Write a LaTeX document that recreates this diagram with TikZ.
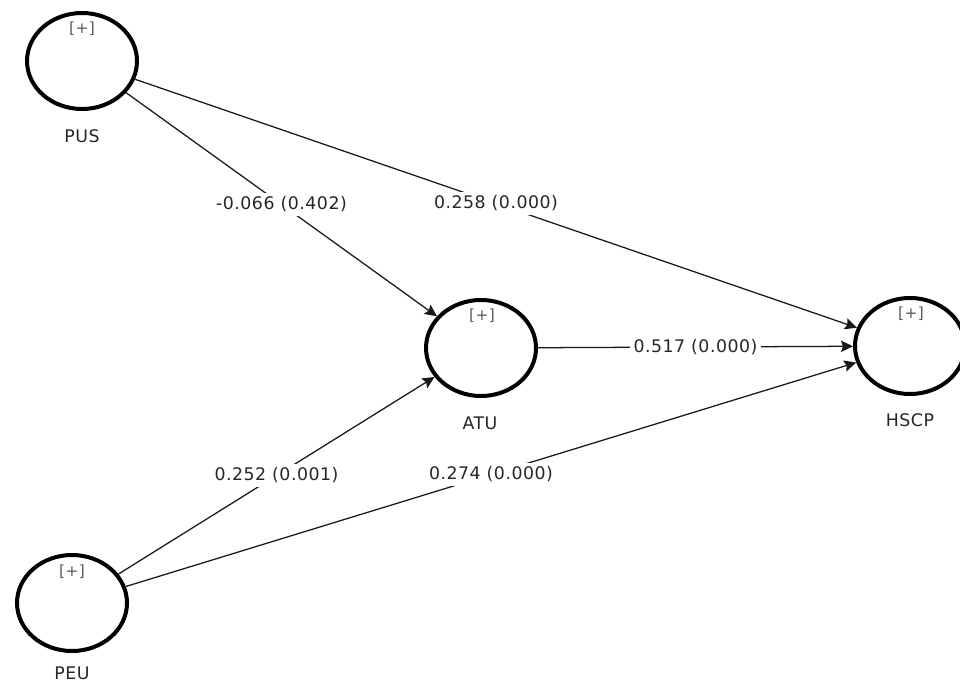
\documentclass[tikz,border=0pt]{standalone}
\usepackage{fontspec}
\setmainfont{DejaVu Sans}[LetterSpace=3]
\usetikzlibrary{shapes.geometric,arrows.meta}
\begin{document}
\begin{tikzpicture}[x=0.75pt,y=-0.75pt,
  lv/.style={ellipse,draw=black,line width=3pt,minimum width=82.5pt,minimum height=72pt,inner sep=0pt},
  plus/.style={font=\fontsize{11.5}{13}\selectfont,text=black!65,inner sep=0pt},
  vname/.style={font=\fontsize{13}{15}\selectfont,text=black!85,inner sep=0pt},
  pathline/.style={draw=black!90,line width=0.95pt,-{Stealth[length=9pt,width=8.5pt,inset=1.5pt]}},
  coef/.style={fill=white,inner sep=2.5pt,font=\fontsize{13}{15}\selectfont,text=black!85}]
\clip (0,0) rectangle (960,684);
\fill[white] (0,0) rectangle (960,684);
% latent variables
\node[lv] (PUS)  at (82,61) {};
\node[lv] (ATU)  at (481,348) {};
\node[lv] (HSCP) at (910,346) {};
\node[lv] (PEU)  at (72,603) {};
% [+] markers
\node[plus] (PUSp)  at (82,29) {[+]};
\node[plus] (ATUp)  at (482,316) {[+]};
\node[plus] (HSCPp) at (911,314) {[+]};
\node[plus] (PEUp)  at (72,572) {[+]};
% names
\node[vname] (PUSn)  at (82,136) {PUS};
\node[vname] (ATUn)  at (480,423) {ATU};
\node[vname] (HSCPn) at (910,420) {HSCP};
\node[vname] (PEUn)  at (72,673) {PEU};
% paths
\draw[pathline] (PUS) -- node[coef] (c1) {-0.066 (0.402)} (ATU);
\draw[pathline] (PUS) -- node[coef] (c2) {0.258 (0.000)} (HSCP);
\draw[pathline] (ATU) -- node[coef] (c3) {0.517 (0.000)} (HSCP);
\draw[pathline] (PEU) -- node[coef] (c4) {0.252 (0.001)} (ATU);
\draw[pathline] (PEU) -- node[coef] (c5) {0.274 (0.000)} (HSCP);
\end{tikzpicture}
\end{document}
